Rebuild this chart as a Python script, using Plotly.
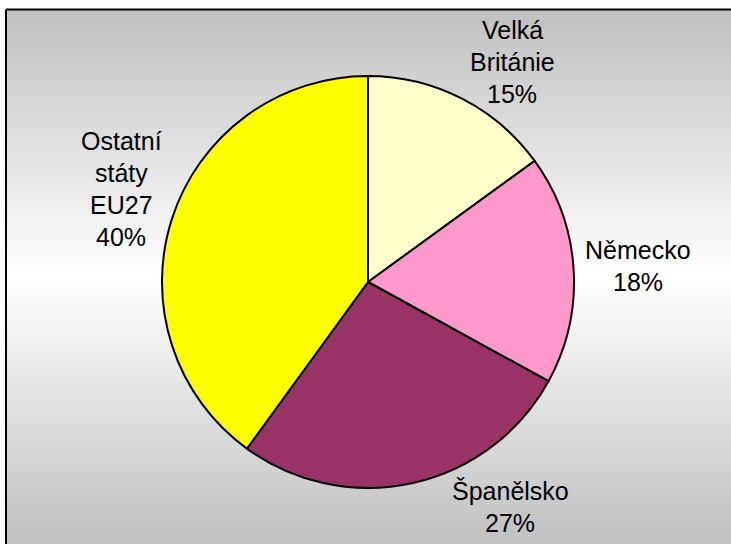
import plotly.graph_objects as go

# Share of each destination (percent)
countries = ["Velká Británie", "Německo", "Španělsko", "Ostatní státy EU27"]
shares = [15, 18, 27, 40]

# Label lines as drawn next to each slice
label_lines = [
    ["Velká", "Británie"],
    ["Německo"],
    ["Španělsko"],
    ["Ostatní", "státy", "EU27"],
]

slice_colors = ["#FFFFCC", "#FF99CC", "#993366", "#FFFF00"]

W, H = 731, 544

# Pie placement in pixels: centre and radius
CX, CY, R = 368, 282, 206

# Label block position in pixels: horizontal centre, vertical centre of first line
label_pos = [(512, 30), (638, 250), (510, 491), (121, 141)]
LINE_STEP = 32
FONT = dict(family="Liberation Sans, Arial, sans-serif", size=25, color="#000000")

fig = go.Figure()

fig.add_trace(go.Pie(
    labels=countries,
    values=shares,
    sort=False,
    direction="clockwise",
    rotation=0,
    marker=dict(colors=slice_colors, line=dict(color="#000000", width=2)),
    textinfo="none",
    hoverinfo="label+percent",
    showlegend=False,
    domain=dict(x=[(CX - R) / W, (CX + R) / W], y=[1 - (CY + R) / H, 1 - (CY - R) / H]),
))

# Text labels: name lines followed by the share
annotations = []
for (x, y0), lines, v in zip(label_pos, label_lines, shares):
    pct = round(100 * v / sum(shares))
    for i, line in enumerate(lines + [f"{pct}%"]):
        y = y0 + i * LINE_STEP
        annotations.append(dict(
            x=x / W, y=1 - y / H, xref="paper", yref="paper",
            text=line, showarrow=False, xanchor="center", yanchor="middle",
            font=FONT,
        ))

# Chart-area background: grey at top and bottom, white through the middle
left_px, top_px = 6, 9.5
shapes = []
STRIP = 3
y = top_px
area_h = H - top_px
while y < H:
    t = (y + STRIP / 2 - top_px) / area_h
    k = 1 - abs(2 * t - 1)          # 0 at edges, 1 in the middle
    g = int(round(192 + (255 - 192) * k))
    shapes.append(dict(
        type="rect", xref="paper", yref="paper",
        x0=left_px / W, x1=1, y0=1 - (y + STRIP + 0.5) / H, y1=1 - y / H,
        line=dict(width=0), fillcolor=f"rgb({g},{g},{g})", layer="below",
    ))
    y += STRIP

# Frame lines along the left and top edges
frame = dict(color="#000000", width=2)
shapes.append(dict(type="line", xref="paper", yref="paper",
                   x0=left_px / W, x1=left_px / W, y0=0, y1=1 - top_px / H,
                   line=frame, layer="above"))
shapes.append(dict(type="line", xref="paper", yref="paper",
                   x0=left_px / W, x1=1, y0=1 - top_px / H, y1=1 - top_px / H,
                   line=frame, layer="above"))

fig.update_layout(
    width=W, height=H,
    margin=dict(l=0, r=0, t=0, b=0),
    paper_bgcolor="#FFFFFF",
    plot_bgcolor="rgba(0,0,0,0)",
    annotations=annotations,
    shapes=shapes,
)

fig.write_html("out.html")
